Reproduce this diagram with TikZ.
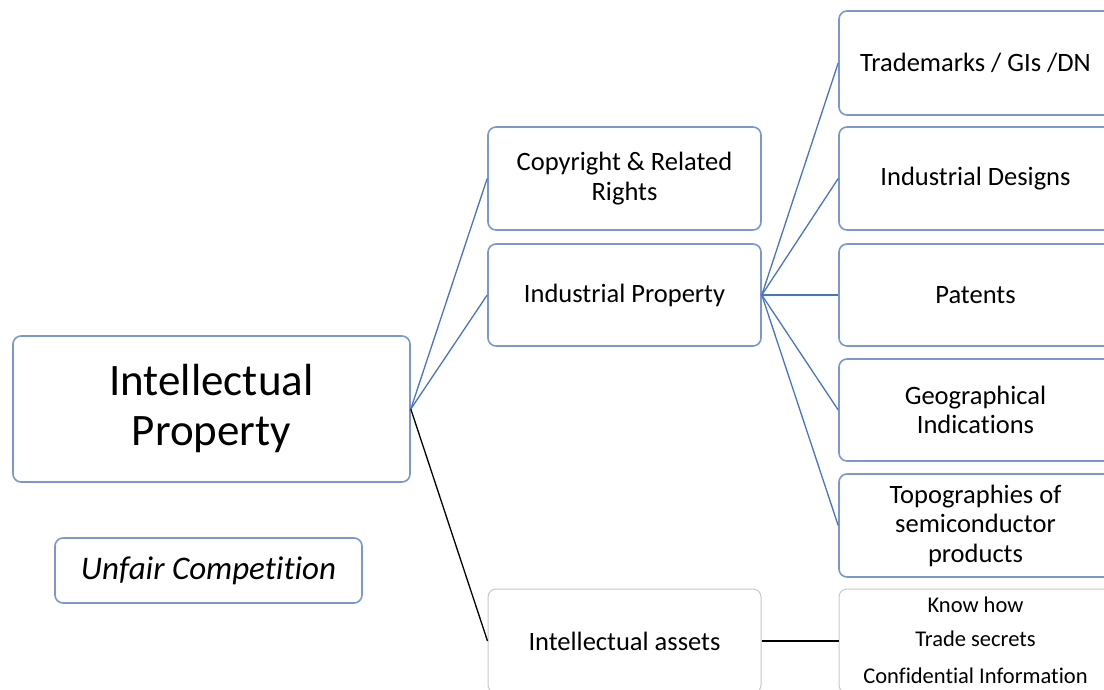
\documentclass[tikz,border=0pt]{standalone}
\usepackage{fontspec}
\setmainfont[RawFeature={-liga;-clig;-calt;-dlig;-rlig}]{Carlito}
\definecolor{boxblue}{RGB}{122,152,206}
\definecolor{lineblue}{RGB}{72,116,196}
\definecolor{boxgray}{RGB}{200,200,200}
\begin{document}
\begin{tikzpicture}[x=1pt,y=1pt,
  bx/.style={draw=boxblue,line width=1.6pt,rounded corners=8pt,fill=white,
    align=center,inner sep=0pt,anchor=center},
  gbx/.style={bx,draw=boxgray,line width=1pt},
  mid/.style={font=\fontsize{26.5}{29.5}\selectfont},
  small/.style={font=\fontsize{22.5}{25}\selectfont},
  conn/.style={lineblue,line width=1.3pt},
  bconn/.style={black,line width=1.3pt}]
\useasboundingbox (0,0) rectangle (1104,689);
\clip (0,0) rectangle (1104,689);
% main
\node[bx,minimum width=397pt,minimum height=146pt,font=\fontsize{45}{50}\selectfont] (ip) at (211.5,280) {Intellectual\\Property};
\node[bx,minimum width=307pt,minimum height=65pt,font=\fontsize{33}{36}\selectfont\itshape] (uc) at (208.5,118.5) {Unfair Compet\kern0pt ition};
% middle
\node[bx,mid,minimum width=273pt,minimum height=103pt] (cr) at (624.5,510.5) {Copyright \& Related\\Rights};
\node[bx,mid,minimum width=273pt,minimum height=102pt] (ind) at (624.5,394) {Industrial Property};
\node[gbx,mid,minimum width=273pt,minimum height=104pt] (ia) at (624.5,48) {Intellectual assets};
% right
\node[bx,mid,minimum width=273pt,minimum height=104pt] (tm) at (975.5,626) {Trademarks / GIs /DN};
\node[bx,mid,minimum width=273pt,minimum height=103pt] (id) at (975.5,510.5) {Industrial Designs};
\node[bx,mid,minimum width=273pt,minimum height=102pt] (pa) at (975.5,394) {Patents};
\node[bx,mid,minimum width=273pt,minimum height=102pt] (gi) at (975.5,279) {Geographical\\Indications};
\node[bx,mid,minimum width=273pt,minimum height=103pt] (tp) at (975.5,163.5) {Topographies of\\semiconductor\\products};
\node[gbx,minimum width=273pt,minimum height=104pt] (kh) at (975.5,48) {};
\node[small] (kh1) at (975.5,84) {Know how};
\node[small] (kh2) at (975.5,50) {Trade secrets};
\node[small] (kh3) at (975.5,13) {Confident\kern0pt ial Informat\kern0pt ion};
% connectors
\draw[conn] (ip.east) -- (cr.west);
\draw[conn] (ip.east) -- (ind.west);
\draw[bconn] (ip.east) -- (ia.west);
\draw[conn] (ind.east) -- (tm.west);
\draw[conn] (ind.east) -- (id.west);
\draw[conn] (ind.east) -- (pa.west);
\draw[conn] (ind.east) -- (gi.west);
\draw[conn] (ind.east) -- (tp.west);
\draw[bconn] (ia.east) -- (kh.west);
\end{tikzpicture}
\end{document}
